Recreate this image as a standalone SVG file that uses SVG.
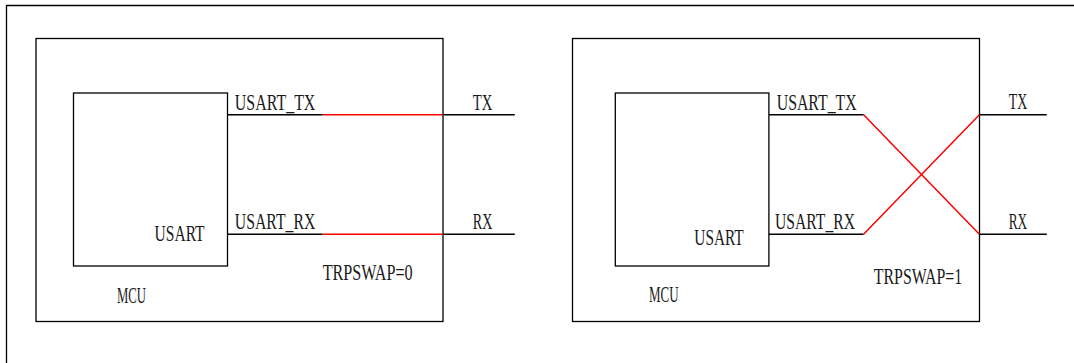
<svg xmlns="http://www.w3.org/2000/svg" width="1074" height="363" viewBox="0 0 1074 363">
<style>
.box{fill:none;stroke:#000;stroke-width:1.3}
.w{fill:none;stroke:#000;stroke-width:1.5}
.r{fill:none;stroke:#ff0000;stroke-width:1.5}
text{font-family:"Liberation Serif","DejaVu Serif",serif;font-size:24px;fill:#1a1a1a}
</style>
<rect width="1074" height="363" fill="#fff"/>
<g id="frame"><path class="box" d="M6.5,364 V5.5 H1080"/></g>
<g id="mcu0">
<rect class="box" x="36" y="38.5" width="407" height="283"/>
<text x="117" y="303" textLength="29" lengthAdjust="spacingAndGlyphs">MCU</text>
<text x="322.7" y="280" textLength="90" lengthAdjust="spacingAndGlyphs">TRPSWAP=0</text>
</g>
<g id="usart0">
<rect class="box" x="73.5" y="93" width="154" height="173"/>
<text x="154.6" y="241" textLength="50" lengthAdjust="spacingAndGlyphs">USART</text>
<text x="234.8" y="110" textLength="80.6" lengthAdjust="spacingAndGlyphs">USART_TX</text>
<text x="234.8" y="229" textLength="80.6" lengthAdjust="spacingAndGlyphs">USART_RX</text>
</g>
<g id="pins0">
<text x="472.8" y="110" textLength="19.6" lengthAdjust="spacingAndGlyphs">TX</text>
<text x="472.8" y="229" textLength="19.6" lengthAdjust="spacingAndGlyphs">RX</text>
</g>
<g id="mcu1">
<rect class="box" x="572.5" y="38.5" width="407" height="283"/>
<text x="649" y="302" textLength="29.6" lengthAdjust="spacingAndGlyphs">MCU</text>
<text x="873.8" y="284" textLength="88.5" lengthAdjust="spacingAndGlyphs">TRPSWAP=1</text>
</g>
<g id="usart1">
<rect class="box" x="615.3" y="93" width="153.6" height="173"/>
<text x="694.3" y="245" textLength="49.4" lengthAdjust="spacingAndGlyphs">USART</text>
<text x="776.7" y="110" textLength="80" lengthAdjust="spacingAndGlyphs">USART_TX</text>
<text x="775" y="229" textLength="80" lengthAdjust="spacingAndGlyphs">USART_RX</text>
</g>
<g id="pins1">
<text x="1008.7" y="109" textLength="18.5" lengthAdjust="spacingAndGlyphs">TX</text>
<text x="1008.7" y="229" textLength="18.5" lengthAdjust="spacingAndGlyphs">RX</text>
</g>
<g id="connectors">
<path class="w" d="M227.5,114.7 H322.7 M443,114.7 H514.8 M227.5,234.3 H322.7 M443,234.3 H514.8"/>
<path class="r" d="M322.7,114.7 H443 M322.7,234.3 H443"/>
<path class="w" d="M768.9,114.7 H863.6 M979.4,114.7 H1046.8 M768.9,234.3 H863.6 M979.4,234.3 H1046.8"/>
<path class="r" d="M863.6,114.7 L979.4,234.3 M863.6,234.3 L979.4,114.7"/>
</g>
</svg>
